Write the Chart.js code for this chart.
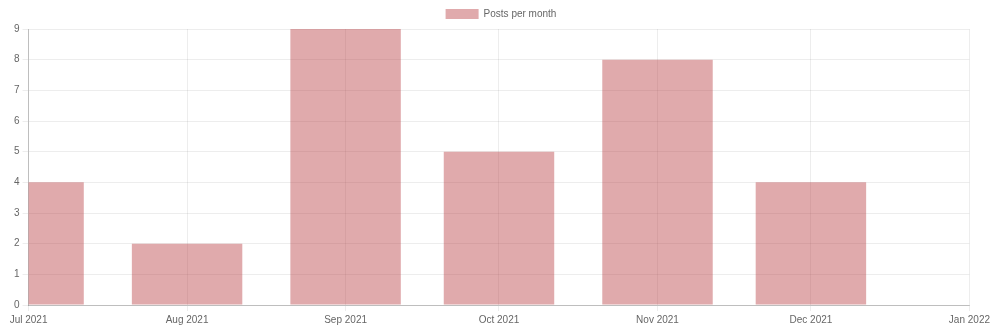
<!DOCTYPE html>
<html>
<head>
<meta charset="utf-8">
<script src="https://cdn.jsdelivr.net/npm/chart.js@4/dist/chart.umd.min.js"></script>
<style>
  body { margin: 0; background: #fff; }
</style>
</head>
<body>
<canvas id="postsChart" width="993" height="332"></canvas>
<script>
// Datos del gráfico
var months = ['2021-07', '2021-08', '2021-09', '2021-10', '2021-11', '2021-12'];
var posts = [4, 2, 9, 5, 8, 4];
var tickMonths = ['2021-07', '2021-08', '2021-09', '2021-10', '2021-11', '2021-12', '2022-01'];
var tickLabels = ['Jul 2021', 'Aug 2021', 'Sep 2021', 'Oct 2021', 'Nov 2021', 'Dec 2021', 'Jan 2022'];

// días desde el inicio (simula una escala de tiempo sin adaptador)
var start = Date.UTC(2021, 6, 1);
function dayOf(ym) {
    var p = ym.split('-');
    return (Date.UTC(+p[0], +p[1] - 1, 1) - start) / 86400000;
}
var tickDays = tickMonths.map(dayOf);

document.addEventListener('DOMContentLoaded', function () {
    var ctx = document.getElementById('postsChart').getContext('2d');

    var data = {
        datasets: [{
            label: 'Posts per month',
            data: months.map(function (m, i) { return { x: dayOf(m), y: posts[i] }; }),
            backgroundColor: 'rgba(184, 59, 62, 0.43)',
            borderWidth: 0
        }]
    };

    var options = {
        responsive: false,
        animation: false,
        layout: { padding: { left: 11, right: 2, bottom: 3 } },
        plugins: {
            legend: {
                position: 'top',
                labels: {
                    boxWidth: 33,
                    boxHeight: 10,
                    padding: 9,
                    color: '#666',
                    font: { size: 10, family: 'Arial' }
                }
            },
            tooltip: { enabled: false }
        },
        scales: {
            x: {
                type: 'linear',
                offset: false,
                min: tickDays[0],
                max: tickDays[tickDays.length - 1],
                afterBuildTicks: function (scale) {
                    scale.ticks = tickDays.map(function (d) { return { value: d }; });
                },
                ticks: {
                    autoSkip: false,
                    maxRotation: 0,
                    color: '#666',
                    font: { size: 10, family: 'Arial' },
                    callback: function (value) {
                        return tickLabels[tickDays.indexOf(value)];
                    }
                },
                grid: { offset: false, color: 'rgba(0,0,0,0.07)', tickLength: 6 },
                border: { color: 'rgba(0,0,0,0.2)' }
            },
            y: {
                beginAtZero: true,
                max: 9,
                ticks: {
                    stepSize: 1,
                    color: '#666',
                    font: { size: 10, family: 'Arial' }
                },
                grid: { color: 'rgba(0,0,0,0.07)', tickLength: 6 },
                border: { color: 'rgba(0,0,0,0.2)' }
            }
        }
    };

    new Chart(ctx, { type: 'bar', data: data, options: options });
});
</script>
</body>
</html>
